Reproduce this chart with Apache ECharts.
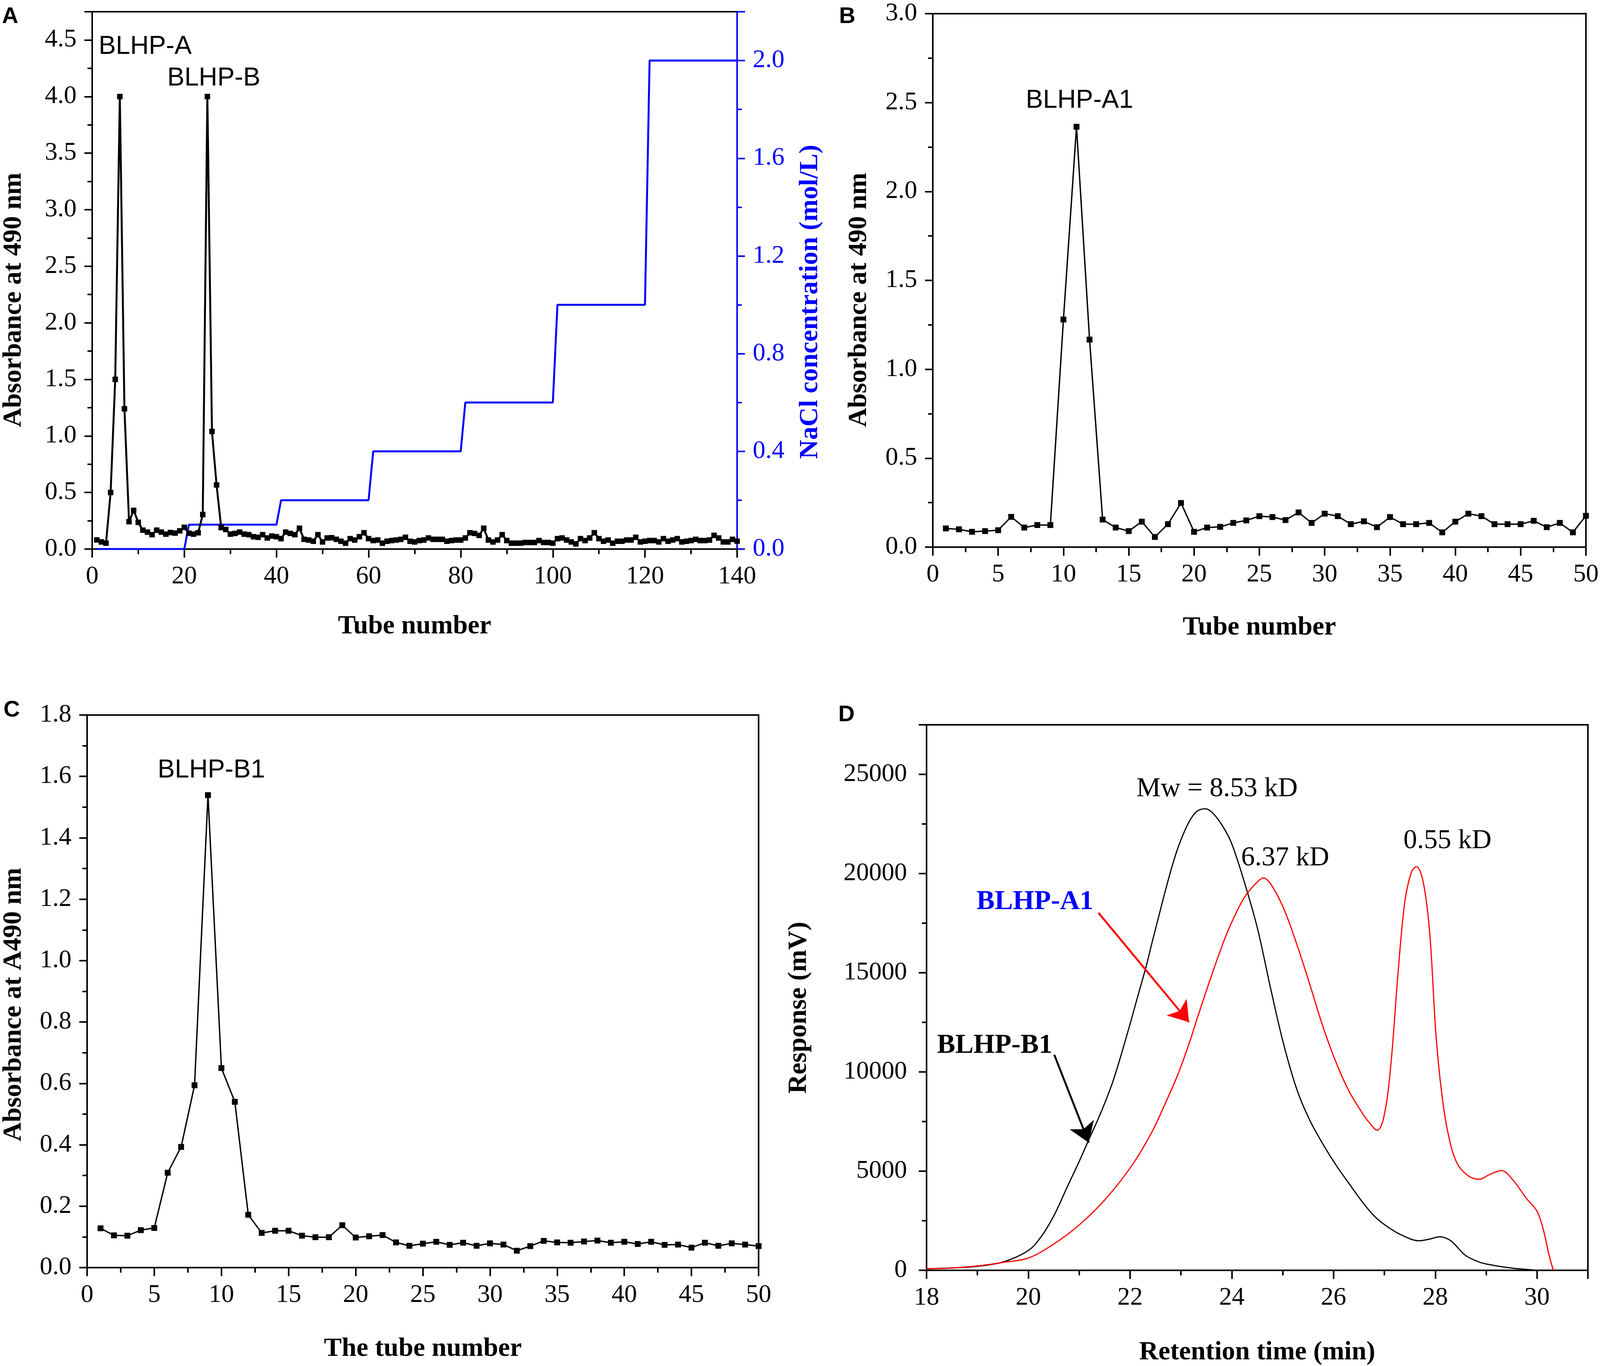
<!DOCTYPE html>
<html>
<head>
<meta charset="utf-8">
<script src="https://cdn.jsdelivr.net/npm/echarts@6/dist/echarts.min.js"></script>
<style>
html,body{margin:0;padding:0;background:#fff;overflow:hidden;}
#c{width:100vw;height:100vh;}
</style>
</head>
<body>
<div id="c"></div>
<script>
// ---------- DATA ----------
// Panel A: absorbance at 490 nm, tubes 1..140
const aAbsorbance = [0.081,0.063,0.052,0.50,1.50,4.00,1.24,0.242,0.342,0.236,
0.167,0.150,0.127,0.167,0.150,0.132,0.146,0.141,0.161,0.192,
0.140,0.132,0.144,0.305,4.00,1.04,0.567,0.190,0.173,0.132,
0.138,0.150,0.132,0.127,0.109,0.104,0.127,0.098,0.115,0.109,
0.092,0.150,0.138,0.127,0.184,0.086,0.080,0.069,0.127,0.063,
0.098,0.100,0.086,0.069,0.052,0.092,0.080,0.109,0.144,0.092,
0.075,0.080,0.052,0.069,0.075,0.080,0.086,0.104,0.069,0.063,
0.075,0.080,0.098,0.086,0.086,0.086,0.069,0.075,0.080,0.080,
0.098,0.144,0.138,0.121,0.184,0.080,0.063,0.080,0.127,0.075,
0.052,0.052,0.052,0.058,0.058,0.058,0.075,0.058,0.058,0.052,
0.092,0.098,0.080,0.063,0.046,0.092,0.075,0.098,0.144,0.092,
0.069,0.080,0.052,0.069,0.069,0.080,0.080,0.104,0.063,0.069,
0.075,0.075,0.063,0.092,0.069,0.080,0.092,0.063,0.069,0.075,
0.086,0.075,0.075,0.080,0.121,0.098,0.063,0.063,0.086,0.070];
// Panel A: NaCl step gradient
const naclTube = [1,20,21,40,41,60,61,80,81,100,101,120,121,140];
const naclConc = [0,0,0.1,0.1,0.2,0.2,0.4,0.4,0.6,0.6,1.0,1.0,2.0,2.0];
// Panel B: BLHP-A1, tubes 1..50
const bAbsorbance = [0.105,0.100,0.086,0.090,0.095,0.170,0.110,0.124,0.124,1.28,
2.364,1.167,0.155,0.110,0.090,0.143,0.057,0.129,0.248,0.086,
0.110,0.114,0.136,0.150,0.174,0.169,0.152,0.195,0.136,0.188,
0.174,0.129,0.145,0.112,0.169,0.129,0.129,0.136,0.083,0.143,
0.188,0.174,0.129,0.129,0.129,0.148,0.112,0.136,0.083,0.176];
// Panel C: BLHP-B1, tubes 1..50
const cAbsorbance = [0.128,0.105,0.104,0.122,0.129,0.309,0.393,0.594,1.539,0.650,
0.540,0.172,0.113,0.120,0.120,0.104,0.099,0.099,0.138,0.098,
0.102,0.106,0.082,0.071,0.078,0.084,0.074,0.081,0.071,0.079,
0.075,0.055,0.070,0.087,0.082,0.081,0.085,0.088,0.081,0.084,
0.077,0.084,0.074,0.075,0.065,0.081,0.071,0.079,0.075,0.070];
// Panel D: HPGPC chromatograms (retention time, response)
const dTimeB1 = [18.0,18.5,19.0,19.5,20.0,20.26,20.51,20.77,21.02,21.2,21.41,21.66,21.92,22.17,22.33,22.43,22.55,22.68,22.81,22.94,23.07,23.19,23.32,23.48,23.63,23.83,24.0,24.26,24.51,24.77,25.02,25.28,25.53,25.79,26.05,26.3,26.56,26.81,27.07,27.32,27.68,27.9,28.08,28.3,28.59,28.85,29.02,29.45,29.87,30.0];
const dRespB1 = [80,120,200,420,1000,1720,2790,4230,5600,6650,7850,9500,11700,13980,15450,16500,17700,19000,20220,21290,22130,22740,23150,23270,23040,22350,21500,19460,17180,14130,11390,9110,7580,6370,5300,4390,3470,2710,2180,1800,1490,1580,1690,1500,760,430,310,130,30,0];
const dTimeA1 = [18.0,18.5,19.0,19.5,20.0,20.51,21.02,21.53,22.04,22.43,22.68,22.94,23.17,23.32,23.58,23.83,24.0,24.26,24.51,24.62,24.77,25.02,25.28,25.53,25.79,26.05,26.3,26.56,26.68,26.86,26.99,27.12,27.27,27.4,27.53,27.63,27.76,27.89,28.01,28.12,28.25,28.42,28.64,28.87,29.06,29.3,29.53,29.79,30.0,30.13,30.23,30.32];
const dRespA1 = [80,120,220,400,620,1340,2330,3625,5300,6975,8345,9870,11500,12700,14700,16500,17550,18850,19600,19780,19460,18240,16420,14440,12300,10480,9050,7950,7520,7060,7740,10170,15050,18550,20070,20350,19610,17030,12000,9060,6920,5440,4780,4590,4820,5030,4540,3630,2980,1990,840,0];

// Annotation texts and anchor points (data coordinates)
const annA = [['BLHP-A',11.5,4.44],['BLHP-B',26.4,4.16]];
const annB = [['BLHP-A1',11.23,2.51]];
const annC = [['BLHP-B1',9.25,1.62]];
const annD = [['Mw = 8.53 kD',23.71,24265],['6.37 kD',25.05,20780],['0.55 kD',28.24,21640]];
const annDBold = [['BLHP-A1',20.13,18560,'#0000ff'],['BLHP-B1',19.34,11330,'#000000']];
const arrowsD = [[21.38,18020,23.16,12510,'#ff0000'],[20.51,10870,21.19,6430,'#000000']];

// ---------- STYLE ----------
const el = document.getElementById('c');
const W = el.clientWidth;
const SX = W / 4550;            // horizontal scale relative to the reference width
const sx = v => Math.round(v * SX);
const SERIF = "'Liberation Serif','Times New Roman',serif";
const SANS = "'Liberation Sans',Arial,sans-serif";
const TICK = 65, TITLE = 68;

function xAx(grid, min, max, interval, name, gap, dec) {
  return {
    type:'value', gridIndex:grid, min:min, max:max, interval:interval,
    name:name, nameLocation:'middle', nameGap:gap,
    nameTextStyle:{fontFamily:SERIF,fontWeight:'bold',fontSize:TITLE,color:'#000'},
    axisLine:{show:true,onZero:false,lineStyle:{color:'#000',width:4}},
    axisTick:{show:true,inside:false,length:22,lineStyle:{color:'#000',width:4}},
    minorTick:{show:true,splitNumber:2,length:13,lineStyle:{color:'#000',width:4}},
    axisLabel:{fontFamily:SERIF,fontSize:TICK,color:'#000',margin:38,showMaxLabel:(max%interval===0),
      formatter:v=>v.toFixed(dec)},
    splitLine:{show:false}
  };
}
function yAx(grid, min, max, interval, name, gap, dec, opts) {
  opts = opts || {};
  const col = opts.color || '#000';
  return {
    type:'value', gridIndex:grid, min:min, max:max, interval:interval,
    position: opts.position || 'left',
    name:name, nameLocation:'middle', nameGap:gap,
    nameTextStyle:{fontFamily:SERIF,fontWeight:'bold',fontSize:TITLE,color:col,padding:opts.pad||0},
    axisLine:{show:true,onZero:false,lineStyle:{color:col,width:4}},
    axisTick:{show:true,inside:false,length:20,lineStyle:{color:col,width:4}},
    minorTick:{show:true,splitNumber:2,length:12,lineStyle:{color:col,width:4}},
    axisLabel:{fontFamily:SERIF,fontSize:TICK,color:col,margin:opts.margin||40,
      showMaxLabel:opts.showMax!==false, formatter:v=>v.toFixed(dec)},
    splitLine:{show:false}
  };
}
const gridBase = {show:true, borderColor:'#000', borderWidth:4, backgroundColor:'transparent', containLabel:false};

const option = {
  backgroundColor:'#fff',
  animation:false,
  grid:[
    Object.assign({left:sx(253), top:30, width:sx(1843), height:1376}, gridBase),
    Object.assign({left:sx(2653), top:35, width:sx(1857), height:1366}, gridBase),
    Object.assign({left:sx(248), top:1831, width:sx(1909), height:1415}, gridBase),
    Object.assign({left:sx(2635), top:1856, width:sx(1881), height:1397}, gridBase)
  ],
  xAxis:[
    xAx(0,0,140,20,'Tube number',164,0),
    xAx(1,0,50,5,'Tube number',172,0),
    xAx(2,0,50,5,'The tube number',174,0),
    xAx(3,18,31,2,'Retention time (min)',176,0)
  ],
  yAxis:[
    yAx(0,0,4.75,0.5,'Absorbance at 490 nm',sx(185),1,{showMax:false,pad:[0,100,0,0]}),
    yAx(0,0,2.2,0.4,'NaCl concentration (mol/L)',sx(170),1,{position:'right',color:'#0000ff',showMax:false,pad:[0,110,0,0]}),
    yAx(1,0,3.0,0.5,'Absorbance at 490 nm',sx(172),1,{pad:[0,100,0,0]}),
    yAx(2,0,1.8,0.2,'Absorbance at A490 nm',sx(171),1,{pad:[0,68,0,0]}),
    yAx(3,0,27500,5000,'Response (mV)',sx(325),0,{showMax:false,pad:[0,52,0,0],margin:sx(55)})
  ],
  series:[
    {type:'line', xAxisIndex:0, yAxisIndex:0, symbol:'rect', symbolSize:14,
     itemStyle:{color:'#000'}, lineStyle:{color:'#000',width:5},
     data:aAbsorbance.map((v,i)=>[i+1,v]), z:5},
    {type:'line', xAxisIndex:0, yAxisIndex:1, symbol:'none',
     lineStyle:{color:'#0000ff',width:5},
     data:naclTube.map((t,i)=>[t,naclConc[i]]), z:4},
    {type:'line', xAxisIndex:1, yAxisIndex:2, symbol:'rect', symbolSize:15,
     itemStyle:{color:'#000'}, lineStyle:{color:'#000',width:3.5},
     data:bAbsorbance.map((v,i)=>[i+1,v])},
    {type:'line', xAxisIndex:2, yAxisIndex:3, symbol:'rect', symbolSize:15,
     itemStyle:{color:'#000'}, lineStyle:{color:'#000',width:3.5},
     data:cAbsorbance.map((v,i)=>[i+1,v])},
    {type:'line', xAxisIndex:3, yAxisIndex:4, symbol:'none', smooth:0.35,
     lineStyle:{color:'#000',width:3},
     data:dTimeB1.map((t,i)=>[t,dRespB1[i]])},
    {type:'line', xAxisIndex:3, yAxisIndex:4, symbol:'none', smooth:0.35,
     lineStyle:{color:'#ff0000',width:3},
     data:dTimeA1.map((t,i)=>[t,dRespA1[i]]),
     markLine:{silent:true, symbol:['none','arrow'], symbolSize:50, label:{show:false},
       animation:false,
       data:arrowsD.map(a=>[{coord:[a[0],a[1]], lineStyle:{color:a[4],width:5,type:'solid'}, itemStyle:{color:a[4]}},{coord:[a[2],a[3]], itemStyle:{color:a[4]}}])}}
  ]
};
const chart = echarts.init(el, null, {renderer:'canvas'});
chart.setOption(option);

// Annotations placed through the chart's own scales
const graphics = [
  {type:'text',left:sx(6),top:14,style:{text:'A',fontFamily:SANS,fontWeight:'bold',fontSize:58,fill:'#000'}},
  {type:'text',left:sx(2386),top:14,style:{text:'B',fontFamily:SANS,fontWeight:'bold',fontSize:58,fill:'#000'}},
  {type:'text',left:sx(10),top:1790,style:{text:'C',fontFamily:SANS,fontWeight:'bold',fontSize:58,fill:'#000'}},
  {type:'text',left:sx(2384),top:1802,style:{text:'D',fontFamily:SANS,fontWeight:'bold',fontSize:58,fill:'#000'}}
];
function addText(seriesIndex, list, font, size, weight, color) {
  list.forEach(a => {
    const p = chart.convertToPixel({seriesIndex:seriesIndex}, [a[1], a[2]]);
    graphics.push({type:'text', x:p[0], y:p[1], z:100,
      style:{text:a[0], fontFamily:font, fontSize:size, fontWeight:weight, fill:a[3]||color,
        align:'center', verticalAlign:'middle', textAlign:'center', textVerticalAlign:'middle'}});
  });
}
addText(0, annA, SANS, 66, 'normal', '#000');
addText(2, annB, SANS, 66, 'normal', '#000');
addText(3, annC, SANS, 66, 'normal', '#000');
addText(4, annD, SERIF, 70, 'normal', '#000');
addText(4, annDBold, SERIF, 70, 'bold', '#000');
chart.setOption({graphic: graphics});
</script>
</body>
</html>
